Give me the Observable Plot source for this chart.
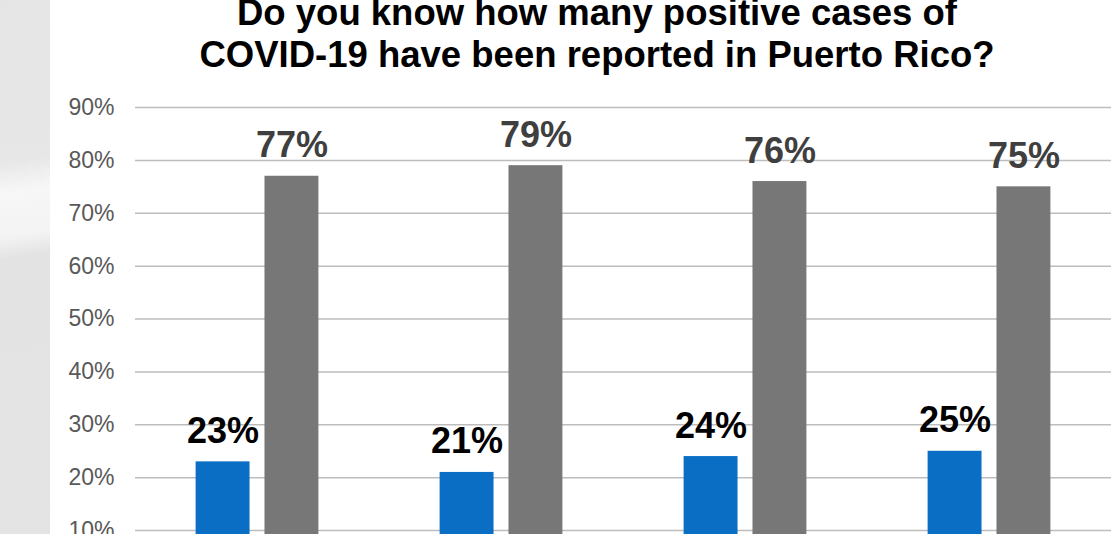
<!DOCTYPE html>
<html>
<head>
<meta charset="utf-8">
<script src="https://cdn.jsdelivr.net/npm/d3@7"></script>
<script src="https://cdn.jsdelivr.net/npm/@observablehq/plot@0.6"></script>
<style>
  html, body { margin: 0; padding: 0; background: #fff; overflow: hidden; }
  body { width: 1117px; height: 534px; position: relative; font-family: "Liberation Sans", Arial, sans-serif; }
  #strip { position: absolute; left: 0; top: 0; width: 50px; height: 534px;
    background: linear-gradient(172deg, #e5e5e5 0%, #e7e7e7 30%, #f7f7f7 36%, #f3f3f3 44%, #e3e3e3 48%, #e4e4e4 100%); }
  #title { position: relative; width: 1194px; text-align: center; font-weight: bold; font-size: 36.5px;
    line-height: 42px; margin-top: -8px; color: #000; height: 84px; }
  #chart { position: relative; }
</style>
</head>
<body>
<div id="strip"></div>
<div id="title">Do you know how many positive cases of<br>COVID-19 have been reported in Puerto Rico?</div>
<div id="chart"></div>
<script>
// Data
const groups = ["Survey 1", "Survey 2", "Survey 3", "Survey 4"];
const answers = ["Yes", "No"];
const yesValues = [23, 21, 24, 25];
const noValues = [77, 79, 76, 75];
const yTicks = [0, 10, 20, 30, 40, 50, 60, 70, 80, 90];

const colors = { Yes: "#0a6fc4", No: "#777777" };
const labelColors = { Yes: "#000000", No: "#3f3f3f" };

const rows = [];
groups.forEach((g, i) => {
  rows.push({ group: g, answer: "Yes", value: yesValues[i] });
  rows.push({ group: g, answer: "No", value: noValues[i] });
});

const chart = Plot.plot({
  width: 1117,
  height: 537,
  marginTop: 31,
  marginBottom: 30,
  marginLeft: 134,
  marginRight: 5,
  style: { fontFamily: "'Liberation Sans', Arial, sans-serif", background: "transparent" },
  fx: { domain: groups, padding: 0, axis: null },
  x: { domain: answers, paddingInner: 0.217, paddingOuter: 0.88, round: false, axis: null },
  y: { domain: [0, 90], ticks: yTicks, axis: null, label: null },
  marks: [
    Plot.gridY(yTicks, { stroke: "#bdbdbd", strokeOpacity: 1, strokeWidth: 1.5 }),
    Plot.axisY(yTicks, {
      tickSize: 0, tickPadding: 21, tickFormat: d => d + "%", label: null,
      fontSize: 23, color: "#595959", fill: "#595959"
    }),
    Plot.barY(rows, { fx: "group", x: "answer", y: "value", fill: d => colors[d.answer] }),
    Plot.text(rows, {
      fx: "group", x: "answer", y: "value",
      text: d => d.value + "%",
      fill: d => labelColors[d.answer],
      fontSize: 36, fontWeight: "bold", textAnchor: "middle", lineAnchor: "bottom", dy: -19
    })
  ]
});
document.getElementById("chart").appendChild(chart);
</script>
</body>
</html>
